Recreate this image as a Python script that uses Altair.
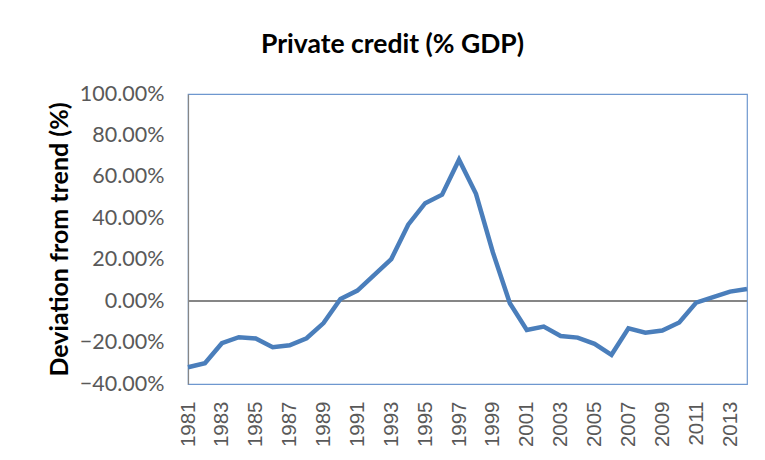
import altair as alt
import pandas as pd

years = list(range(1981, 2015))
deviation_pct = [-31.9, -30.0, -20.3, -17.4, -18.0, -22.2, -21.3, -17.9, -10.6, 1.0,
                 5.1, 12.7, 20.3, 36.9, 47.3, 51.4, 68.3, 51.8, 23.5, -1.0,
                 -13.9, -12.3, -16.8, -17.6, -20.6, -25.9, -13.1, -15.2, -14.2, -10.3,
                 -0.7, 1.9, 4.6, 5.9]
y_ticks = [-0.4, -0.2, 0.0, 0.2, 0.4, 0.6, 0.8, 1.0]
x_ticks = list(range(1981, 2014, 2))

df = pd.DataFrame({"year": years, "dev": [v / 100 for v in deviation_pct]})

x_enc = alt.X(
    "year:Q",
    scale=alt.Scale(domain=[1981, 2014], nice=False, zero=False),
    axis=alt.Axis(values=x_ticks, format="d", labelAngle=-90, labelAlign="right",
                  labelBaseline="middle", labelPadding=17, ticks=False, domain=False,
                  grid=False, labelFont="Liberation Sans", labelFontSize=20.5,
                  labelColor="#595959", title=None),
)
y_enc = alt.Y(
    "dev:Q",
    scale=alt.Scale(domain=[-0.4, 1.0], nice=False),
    axis=alt.Axis(values=y_ticks, format=".2%", title="Deviation from trend (%)",
                  grid=False, ticks=False, domainColor="#868686", domainWidth=1.2,
                  labelFont="Lato", labelFontSize=21.5, labelColor="#595959",
                  labelPadding=24, titleFont="Lato", titleFontSize=25,
                  titleFontWeight="bold", titleColor="black", titleX=-129,
                  titleY=145, titleAngle=-90, titleAlign="center",
                  titleBaseline="middle"),
)

rule = alt.Chart(df).mark_rule(color="#868686", strokeWidth=1.3).encode(y=alt.datum(0))
line = alt.Chart(df).mark_line(color="#4A7EBB", strokeWidth=4.5).encode(x=x_enc, y=y_enc)

chart = (
    alt.layer(rule, line)
    .properties(
        width=559,
        height=290,
        background="white",
        title=alt.Title("Private credit (% GDP)", font="Lato", fontSize=26.5,
                        fontWeight="bold", color="black", anchor="middle",
                        frame="group", dx=-75, offset=4, baseline="alphabetic"),
        autosize=alt.AutoSizeParams(type="none"),
        padding={"left": 180, "top": 86, "right": 10, "bottom": 68},
    )
    .configure_view(stroke="#6E97CF", strokeWidth=1.2)
)

chart.save("out.html", embed_options={"renderer": "svg", "actions": False})
